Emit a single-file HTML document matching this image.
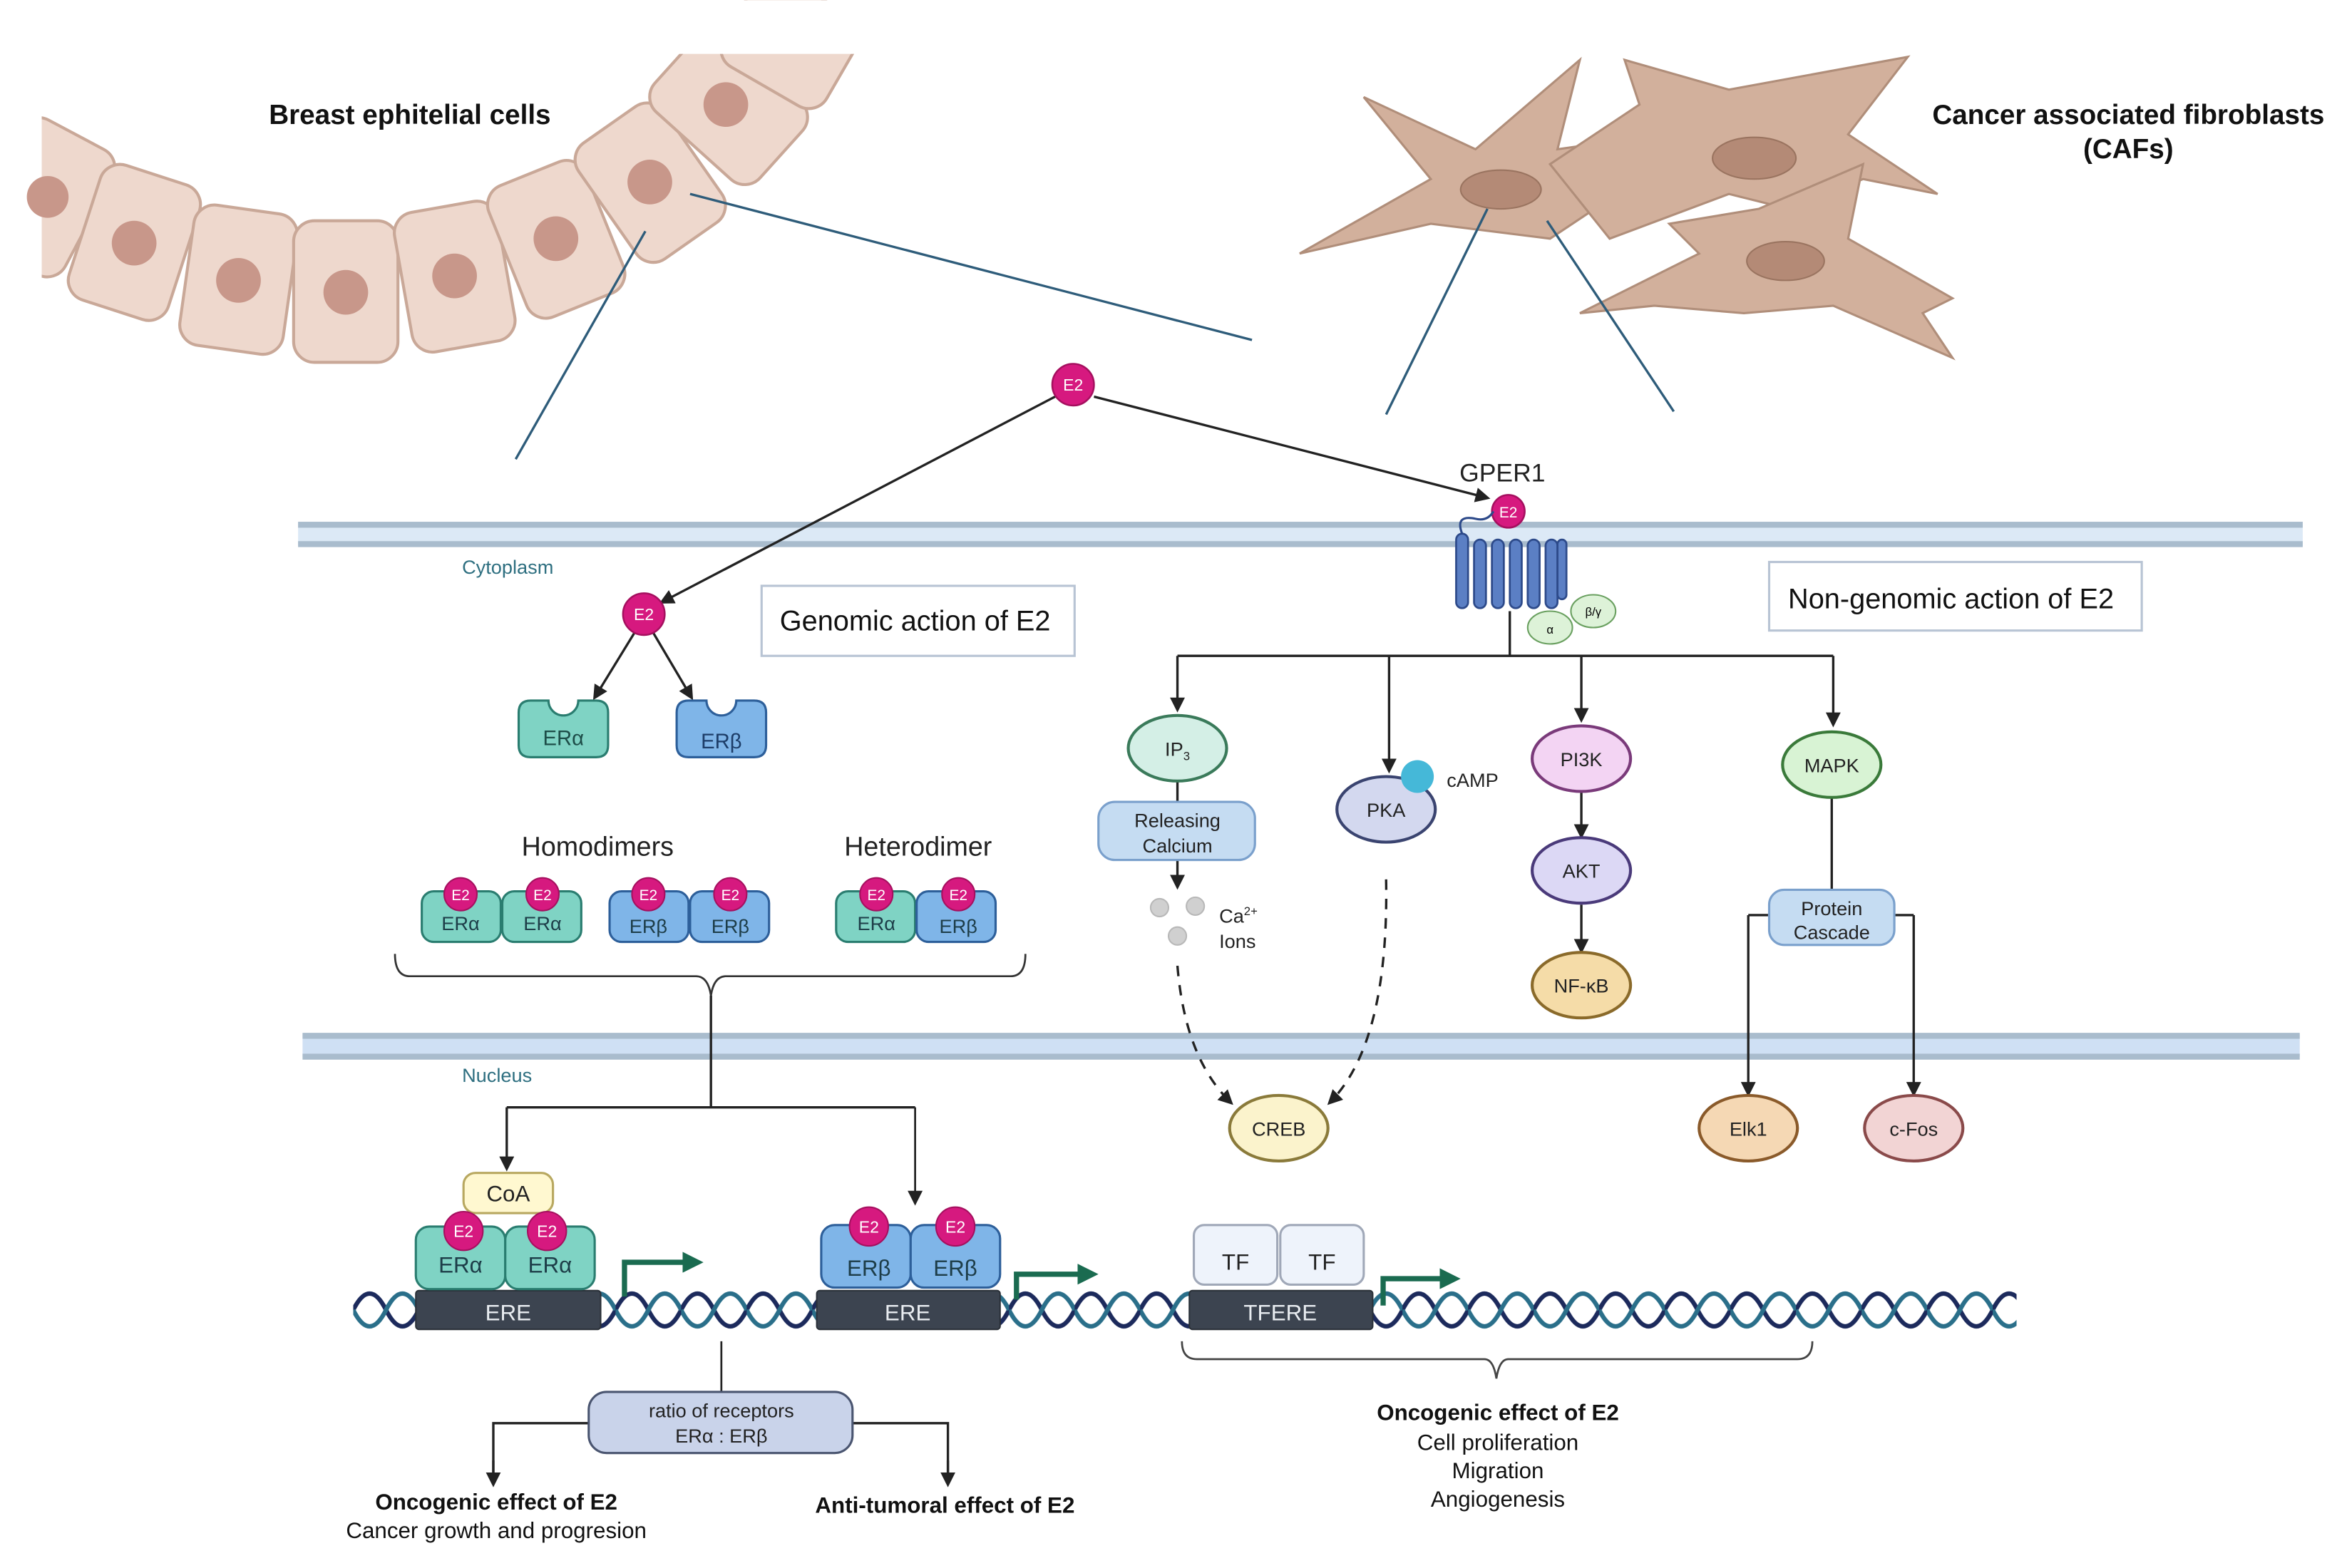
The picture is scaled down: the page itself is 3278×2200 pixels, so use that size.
<!DOCTYPE html>
<html><head><meta charset="utf-8"><style>
html,body{margin:0;padding:0;background:#fff;}
svg{display:block;}
text{font-family:"Liberation Sans",sans-serif;}
</style></head><body>
<svg width="3278" height="2200" viewBox="0 0 1568 1052" xmlns="http://www.w3.org/2000/svg">
<defs>
<marker id="ar" markerWidth="10" markerHeight="10" refX="8" refY="5" orient="auto" markerUnits="userSpaceOnUse"><path d="M0,0 L10,5 L0,10 z" fill="#222"/></marker>
<marker id="ga" markerWidth="14" markerHeight="14" refX="10" refY="7" orient="auto" markerUnits="userSpaceOnUse"><path d="M0,0 L14,7 L0,14 z" fill="#1a6b50"/></marker>
<pattern id="dna" patternUnits="userSpaceOnUse" x="237" y="864" width="44" height="30">
<path d="M0,15 Q11,-7 22,15 T44,15" fill="none" stroke="#1c2a5c" stroke-width="3"/>
<path d="M0,15 Q11,37 22,15 T44,15" fill="none" stroke="#2a6f8a" stroke-width="3"/>
</pattern>
</defs>

<!-- epithelial cells -->
<g fill="#eed8cd" stroke="#c9a898" stroke-width="2">
<rect x="-5" y="85" width="70" height="95" rx="14" transform="rotate(28 30 130)"/>
<rect x="55" y="115" width="70" height="95" rx="14" transform="rotate(18 90 163)"/>
<rect x="125" y="140" width="70" height="95" rx="14" transform="rotate(8 160 188)"/>
<rect x="197" y="148" width="70" height="95" rx="14" transform="rotate(0 232 196)"/>
<rect x="270" y="138" width="70" height="95" rx="14" transform="rotate(-10 305 185)"/>
<rect x="338" y="113" width="70" height="95" rx="14" transform="rotate(-22 373 160)"/>
<rect x="401" y="75" width="70" height="95" rx="14" transform="rotate(-35 436 122)"/>
<rect x="452" y="25" width="70" height="95" rx="14" transform="rotate(-48 487 70)"/>
<rect x="500" y="-15" width="70" height="80" rx="14" transform="rotate(-60 535 30)"/>
</g>
<rect x="0" y="0" width="28" height="240" fill="#fff"/>
<rect x="0" y="0" width="600" height="36" fill="#fff"/>
<g fill="#c8978a">
<circle cx="32" cy="132" r="14"/><circle cx="90" cy="163" r="15"/><circle cx="160" cy="188" r="15"/>
<circle cx="232" cy="196" r="15"/><circle cx="305" cy="185" r="15"/><circle cx="373" cy="160" r="15"/>
<circle cx="436" cy="122" r="15"/><circle cx="487" cy="70" r="15"/>
</g>
<text x="275" y="83" font-size="18.5" font-weight="bold" text-anchor="middle" fill="#111">Breast ephitelial cells</text>

<!-- fibroblasts -->
<g fill="#d2b09c" stroke="#b08e7a" stroke-width="1.5">
<path d="M872,170 L960,120 L915,65 L990,100 L1060,40 L1045,100 L1115,90 L1070,140 L1040,160 L960,150 Z"/>
<path d="M1040,110 L1100,70 L1090,40 L1160,60 L1280,38 L1240,90 L1300,130 L1250,120 L1200,140 L1160,130 L1080,160 Z"/>
<path d="M1060,210 L1140,170 L1120,150 L1180,140 L1250,110 L1240,160 L1310,200 L1290,210 L1310,240 L1230,205 L1170,210 L1110,205 Z"/>
</g>
<g fill="#b48a76" stroke="#9a7460">
<ellipse cx="1007" cy="127" rx="27" ry="13"/><ellipse cx="1177" cy="106" rx="28" ry="14"/><ellipse cx="1198" cy="175" rx="26" ry="13"/>
</g>
<text x="1428" y="83" font-size="18.5" font-weight="bold" text-anchor="middle" fill="#111">Cancer associated fibroblasts</text>
<text x="1428" y="106" font-size="18.5" font-weight="bold" text-anchor="middle" fill="#111">(CAFs)</text>

<g stroke="#2e5c7a" stroke-width="1.6">
<line x1="463" y1="130" x2="840" y2="228"/><line x1="433" y1="155" x2="346" y2="308"/>
<line x1="998" y1="140" x2="930" y2="278"/><line x1="1038" y1="148" x2="1123" y2="276"/>
</g>

<!-- membranes -->
<rect x="200" y="351" width="1345" height="15" fill="#dce9f6"/>
<rect x="200" y="350" width="1345" height="4" fill="#a9bccd"/>
<rect x="200" y="363" width="1345" height="4" fill="#a9bccd"/>
<rect x="203" y="694" width="1340" height="15" fill="#cfe0f4"/>
<rect x="203" y="693" width="1340" height="4" fill="#a9bccd"/>
<rect x="203" y="707" width="1340" height="4" fill="#a9bccd"/>
<text x="310" y="385" font-size="13" fill="#2e6f80">Cytoplasm</text>
<text x="310" y="726" font-size="13" fill="#2e6f80">Nucleus</text>

<!-- E2 arrows -->
<g stroke="#222" stroke-width="1.6" fill="none" marker-end="url(#ar)">
<line x1="708" y1="266" x2="444" y2="404"/>
<line x1="734" y1="266" x2="998" y2="334"/>
<line x1="426" y1="424" x2="399" y2="468"/>
<line x1="438" y1="424" x2="464" y2="468"/>
</g>
<g fill="#d6197f" stroke="#a5105f" stroke-width="1.2">
<circle cx="720" cy="258" r="14"/><circle cx="432" cy="412" r="14"/><circle cx="1012" cy="343" r="11"/>
</g>
<g fill="#fff" font-size="11" text-anchor="middle">
<text x="720" y="262">E2</text><text x="432" y="416">E2</text><text x="1012" y="347" font-size="10">E2</text>
</g>

<rect x="511" y="393" width="210" height="47" fill="#fff" stroke="#b8c4d4" stroke-width="1.5"/>
<text x="614" y="423" font-size="19" text-anchor="middle" fill="#111">Genomic action of E2</text>
<rect x="1187" y="377" width="250" height="46" fill="#fff" stroke="#b8c4d4" stroke-width="1.5"/>
<text x="1309" y="408" font-size="19" text-anchor="middle" fill="#111">Non-genomic action of E2</text>

<!-- ERa / ERb monomers -->
<path d="M356,470 H368 A10,10 0 0 0 388,470 H400 Q408,470 408,478 V500 Q408,508 400,508 H356 Q348,508 348,500 V478 Q348,470 356,470 Z" fill="#7fd3c4" stroke="#2a7d70" stroke-width="1.5"/>
<text x="378" y="500" font-size="14" text-anchor="middle" fill="#1d4d48">ERα</text>
<path d="M462,470 H474 A10,10 0 0 0 494,470 H506 Q514,470 514,478 V500 Q514,508 506,508 H462 Q454,508 454,500 V478 Q454,470 462,470 Z" fill="#7fb5e8" stroke="#2d5f9a" stroke-width="1.5"/>
<text x="484" y="502" font-size="14" text-anchor="middle" fill="#1d3d68">ERβ</text>

<text x="401" y="574" font-size="18" text-anchor="middle" fill="#222">Homodimers</text>
<text x="616" y="574" font-size="18" text-anchor="middle" fill="#222">Heterodimer</text>

<!-- dimers -->
<g stroke-width="1.5">
<rect x="283" y="598" width="53" height="34" rx="8" fill="#7fd3c4" stroke="#2a7d70"/>
<rect x="337" y="598" width="53" height="34" rx="8" fill="#7fd3c4" stroke="#2a7d70"/>
<rect x="409" y="598" width="53" height="34" rx="8" fill="#7fb5e8" stroke="#2d5f9a"/>
<rect x="463" y="598" width="53" height="34" rx="8" fill="#7fb5e8" stroke="#2d5f9a"/>
<rect x="561" y="598" width="53" height="34" rx="8" fill="#7fd3c4" stroke="#2a7d70"/>
<rect x="615" y="598" width="53" height="34" rx="8" fill="#7fb5e8" stroke="#2d5f9a"/>
</g>
<g fill="#d6197f" stroke="#a5105f">
<circle cx="309" cy="600" r="11"/><circle cx="364" cy="600" r="11"/><circle cx="435" cy="600" r="11"/>
<circle cx="490" cy="600" r="11"/><circle cx="588" cy="600" r="11"/><circle cx="643" cy="600" r="11"/>
</g>
<g fill="#fff" font-size="10" text-anchor="middle">
<text x="309" y="604">E2</text><text x="364" y="604">E2</text><text x="435" y="604">E2</text>
<text x="490" y="604">E2</text><text x="588" y="604">E2</text><text x="643" y="604">E2</text>
</g>
<g font-size="13" text-anchor="middle" fill="#1d3d48">
<text x="309" y="624">ERα</text><text x="364" y="624">ERα</text><text x="435" y="626">ERβ</text>
<text x="490" y="626">ERβ</text><text x="588" y="624">ERα</text><text x="643" y="626">ERβ</text>
</g>

<!-- brace top -->
<path d="M265,640 Q265,655 275,655 H467 Q475,655 477,668 Q479,655 487,655 H678 Q688,655 688,640" fill="none" stroke="#333" stroke-width="1.3"/>
<path d="M477,668 V743 M340,743 H614" stroke="#222" stroke-width="1.6" fill="none"/>
<line x1="340" y1="743" x2="340" y2="784" stroke="#222" stroke-width="1.6" marker-end="url(#ar)"/>
<line x1="614" y1="743" x2="614" y2="807" stroke="#222" stroke-width="1.3" marker-end="url(#ar)"/>

<!-- DNA -->
<rect x="237" y="864" width="1116" height="30" fill="url(#dna)"/>
<g fill="#3c4450" stroke="#2a3038">
<rect x="279" y="866" width="124" height="26" rx="2"/><rect x="548" y="866" width="123" height="26" rx="2"/><rect x="798" y="866" width="123" height="26" rx="2"/>
</g>
<g fill="#e8ecf0" font-size="15" text-anchor="middle">
<text x="341" y="886">ERE</text><text x="609" y="886">ERE</text><text x="859" y="886">TFERE</text>
</g>

<!-- bound complexes -->
<rect x="279" y="823" width="60" height="42" rx="9" fill="#7fd3c4" stroke="#2a7d70" stroke-width="1.5"/>
<rect x="339" y="823" width="60" height="42" rx="9" fill="#7fd3c4" stroke="#2a7d70" stroke-width="1.5"/>
<rect x="311" y="787" width="60" height="27" rx="8" fill="#fff8d0" stroke="#b8a860" stroke-width="1.5"/>
<text x="341" y="806" font-size="15" text-anchor="middle" fill="#222">CoA</text>
<rect x="551" y="822" width="60" height="42" rx="9" fill="#7fb5e8" stroke="#2d5f9a" stroke-width="1.5"/>
<rect x="611" y="822" width="60" height="42" rx="9" fill="#7fb5e8" stroke="#2d5f9a" stroke-width="1.5"/>
<rect x="801" y="822" width="56" height="40" rx="7" fill="#eef3fb" stroke="#a0a8b8" stroke-width="1.5"/>
<rect x="859" y="822" width="56" height="40" rx="7" fill="#eef3fb" stroke="#a0a8b8" stroke-width="1.5"/>
<g fill="#d6197f" stroke="#a5105f">
<circle cx="311" cy="826" r="13"/><circle cx="367" cy="826" r="13"/><circle cx="583" cy="823" r="13"/><circle cx="641" cy="823" r="13"/>
</g>
<g fill="#fff" font-size="11" text-anchor="middle">
<text x="311" y="830">E2</text><text x="367" y="830">E2</text><text x="583" y="827">E2</text><text x="641" y="827">E2</text>
</g>
<g font-size="15" text-anchor="middle" fill="#1d3d48">
<text x="309" y="854">ERα</text><text x="369" y="854">ERα</text><text x="583" y="856">ERβ</text><text x="641" y="856">ERβ</text>
<text x="829" y="852" fill="#222">TF</text><text x="887" y="852" fill="#222">TF</text>
</g>

<!-- green promoter arrows -->
<g stroke="#1a6b50" stroke-width="3.5" fill="none">
<path d="M419,870 V847 H468" marker-end="url(#ga)"/>
<path d="M682,872 V855 H733" marker-end="url(#ga)"/>
<path d="M928,876 V858 H976" marker-end="url(#ga)"/>
</g>

<!-- bottom left -->
<line x1="484" y1="900" x2="484" y2="935" stroke="#222" stroke-width="1.3"/>
<path d="M395,955 H331 V994 M572,955 H636 V994" stroke="#222" stroke-width="1.6" fill="none"/>
<line x1="331" y1="980" x2="331" y2="996" stroke="#222" stroke-width="1.6" marker-end="url(#ar)"/>
<line x1="636" y1="980" x2="636" y2="996" stroke="#222" stroke-width="1.6" marker-end="url(#ar)"/>
<rect x="395" y="934" width="177" height="41" rx="12" fill="#c9d3ea" stroke="#4a5570" stroke-width="1.5"/>
<text x="484" y="951" font-size="13" text-anchor="middle" fill="#222">ratio of receptors</text>
<text x="484" y="968" font-size="13" text-anchor="middle" fill="#222">ERα : ERβ</text>
<text x="333" y="1013" font-size="15" font-weight="bold" text-anchor="middle" fill="#111">Oncogenic effect of E2</text>
<text x="333" y="1032" font-size="15" text-anchor="middle" fill="#111">Cancer growth and progresion</text>
<text x="634" y="1015" font-size="15" font-weight="bold" text-anchor="middle" fill="#111">Anti-tumoral effect of E2</text>

<path d="M793,900 Q793,912 803,912 H996 Q1002,912 1004,925 Q1006,912 1012,912 H1206 Q1216,912 1216,900" fill="none" stroke="#444" stroke-width="1.3"/>
<text x="1005" y="953" font-size="15" font-weight="bold" text-anchor="middle" fill="#111">Oncogenic effect of E2</text>
<text x="1005" y="973" font-size="15" text-anchor="middle" fill="#111">Cell proliferation</text>
<text x="1005" y="992" font-size="15" text-anchor="middle" fill="#111">Migration</text>
<text x="1005" y="1011" font-size="15" text-anchor="middle" fill="#111">Angiogenesis</text>

<!-- GPER1 -->
<text x="1008" y="323" font-size="17" text-anchor="middle" fill="#222">GPER1</text>
<path d="M981,358 Q976,345 990,348 Q998,350 1002,343" fill="none" stroke="#2d4a8a" stroke-width="1.5"/>
<g fill="#5b7fc4" stroke="#2d4a8a" stroke-width="1.3">
<rect x="977" y="358" width="8" height="50" rx="4"/><rect x="989" y="362" width="8" height="46" rx="4"/>
<rect x="1001" y="362" width="8" height="46" rx="4"/><rect x="1013" y="362" width="8" height="46" rx="4"/>
<rect x="1025" y="362" width="8" height="46" rx="4"/><rect x="1037" y="362" width="8" height="46" rx="4"/>
<rect x="1045" y="362" width="6" height="40" rx="3"/>
</g>
<g fill="#ddf2d8" stroke="#6aa060" stroke-width="1">
<ellipse cx="1040" cy="421" rx="15" ry="11"/><ellipse cx="1069" cy="410" rx="15" ry="11"/>
</g>
<text x="1040" y="425" font-size="8" text-anchor="middle">α</text><text x="1069" y="413" font-size="8" text-anchor="middle">β/γ</text>

<path d="M1013,410 V440 M790,440 H1230" stroke="#222" stroke-width="1.6" fill="none"/>
<g stroke="#222" stroke-width="1.6" marker-end="url(#ar)">
<line x1="790" y1="440" x2="790" y2="476"/><line x1="932" y1="440" x2="932" y2="517"/>
<line x1="1061" y1="440" x2="1061" y2="483"/><line x1="1230" y1="440" x2="1230" y2="486"/>
<line x1="1061" y1="531" x2="1061" y2="561"/><line x1="1061" y1="607" x2="1061" y2="638"/>
<line x1="790" y1="577" x2="790" y2="595"/>
<line x1="1173" y1="614" x2="1173" y2="734"/><line x1="1284" y1="614" x2="1284" y2="734"/>
</g>
<path d="M790,524 V538 M1229,535 V597 M1187,614 H1173 M1271,614 H1284" stroke="#222" stroke-width="1.6" fill="none"/>
<g stroke="#222" stroke-width="1.6" fill="none" stroke-dasharray="7,6" marker-end="url(#ar)">
<path d="M790,648 Q795,710 826,740"/>
<path d="M930,590 Q932,700 892,740"/>
</g>

<g stroke-width="2">
<ellipse cx="790" cy="502" rx="33" ry="22" fill="#d4efe6" stroke="#3a7a5a"/>
<ellipse cx="930" cy="543" rx="33" ry="22" fill="#d3d8ef" stroke="#3a4470"/>
<ellipse cx="1061" cy="509" rx="33" ry="22" fill="#f3d4f3" stroke="#7a3a7a"/>
<ellipse cx="1061" cy="584" rx="33" ry="22" fill="#dcd8f5" stroke="#4a3a7a"/>
<ellipse cx="1061" cy="661" rx="33" ry="22" fill="#f5dca8" stroke="#8a6a2a"/>
<ellipse cx="1229" cy="513" rx="33" ry="22" fill="#d8f3d4" stroke="#3a7a3a"/>
<ellipse cx="858" cy="757" rx="33" ry="22" fill="#fbf3cc" stroke="#8a7a3a"/>
<ellipse cx="1173" cy="757" rx="33" ry="22" fill="#f5d8b4" stroke="#8a5a2a"/>
<ellipse cx="1284" cy="757" rx="33" ry="22" fill="#f2d4d4" stroke="#8a4a4a"/>
</g>
<circle cx="951" cy="521" r="11" fill="#45b8d8"/>
<rect x="737" y="538" width="105" height="39" rx="11" fill="#c5dcf2" stroke="#7aa0cc" stroke-width="1.5"/>
<rect x="1187" y="597" width="84" height="37" rx="10" fill="#c5dcf2" stroke="#7aa0cc" stroke-width="1.5"/>
<g font-size="13" text-anchor="middle" fill="#222">
<text x="790" y="507">IP<tspan font-size="8" dy="3">3</tspan></text>
<text x="930" y="548">PKA</text><text x="1061" y="514">PI3K</text><text x="1061" y="589">AKT</text>
<text x="1061" y="666">NF-κB</text><text x="1229" y="518">MAPK</text><text x="858" y="762">CREB</text>
<text x="1173" y="762">Elk1</text><text x="1284" y="762">c-Fos</text>
<text x="790" y="555">Releasing</text><text x="790" y="572">Calcium</text>
<text x="1229" y="614">Protein</text><text x="1229" y="630">Cascade</text>
<text x="988" y="528">cAMP</text>
</g>
<g fill="#d0d0d0" stroke="#b8b8b8"><circle cx="778" cy="609" r="6"/><circle cx="802" cy="608" r="6"/><circle cx="790" cy="628" r="6"/></g>
<text x="818" y="619" font-size="13" fill="#222">Ca<tspan font-size="8" dy="-5">2+</tspan></text>
<text x="818" y="636" font-size="13" fill="#222">Ions</text>
</svg>
</body></html>
